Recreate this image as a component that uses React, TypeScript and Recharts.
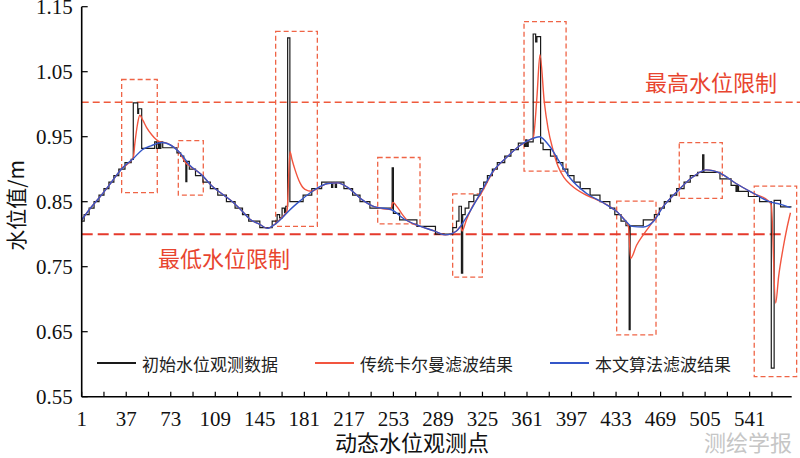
import React from 'react';
import { LineChart, Line, XAxis, YAxis, ReferenceArea, ReferenceLine, Legend } from 'recharts';

const raw: [number, number][] = [
  [1, 0.82], [3, 0.83], [7, 0.84], [11, 0.85], [15, 0.86], [19, 0.87], [23, 0.88], [27, 0.89], [31, 0.9],
  [36, 0.91], [41, 0.915], [42.7, 1.002], [46.3, 0.986], [47, 0.993], [49.5, 0.932], [60, 0.942], [61.5, 0.932],
  [63, 0.942], [64, 0.932], [65, 0.942], [66.5, 0.933], [78, 0.925], [81, 0.92], [83.5, 0.912], [85.2, 0.881],
  [86, 0.912], [88, 0.9], [93, 0.89], [99, 0.88], [105, 0.87], [111, 0.86], [118, 0.85], [125, 0.84], [131, 0.83],
  [136, 0.82], [145, 0.81], [155, 0.82], [159, 0.83], [161, 0.825], [163, 0.84], [165, 0.833], [166, 0.843],
  [167.5, 1.102], [169.3, 0.85], [180, 0.86], [187, 0.87], [195, 0.88], [203, 0.872], [204, 0.88], [206, 0.872],
  [207, 0.88], [213, 0.87], [220, 0.86], [226, 0.85], [234, 0.84], [252, 0.902], [253, 0.832], [258, 0.822],
  [272, 0.812], [287, 0.8], [301, 0.81], [304, 0.82], [306, 0.843], [308, 0.74], [309, 0.83], [311, 0.84],
  [314, 0.85], [318, 0.86], [323, 0.87], [326, 0.88], [329, 0.89], [333, 0.9], [337, 0.91], [343, 0.92],
  [348, 0.93], [354, 0.94], [359, 0.935], [360, 0.945], [361, 0.935], [362, 0.942], [366, 1.108], [368, 1.096],
  [369, 1.104], [372, 0.94], [374, 0.93], [380, 0.92], [385, 0.91], [390, 0.9], [394, 0.89], [399, 0.88],
  [404, 0.87], [412, 0.86], [420, 0.85], [428, 0.84], [432, 0.83], [437, 0.82], [441, 0.813], [443.6, 0.653],
  [444.4, 0.813], [455, 0.822], [464, 0.83], [468, 0.84], [472, 0.85], [477, 0.86], [482, 0.87], [488, 0.88],
  [493, 0.89], [499, 0.895], [503, 0.922], [504, 0.895], [517, 0.885], [526, 0.875], [530, 0.866], [531, 0.875],
  [532, 0.866], [540, 0.858], [549, 0.85], [558.5, 0.594], [560.8, 0.852], [566, 0.842], [575, 0.842],
];

const kalman: [number, number][] = [
  [1, 0.822], [8, 0.84], [16, 0.858], [25, 0.88], [33, 0.9], [42.7, 0.918], [44, 0.94], [46, 0.968], [48, 0.983],
  [50.5, 0.975], [53.5, 0.964], [57.6, 0.953], [61, 0.946], [64.3, 0.942], [69.7, 0.94], [72, 0.938], [80, 0.926],
  [85, 0.91], [89, 0.904], [97, 0.893], [107, 0.873], [116, 0.86], [124, 0.848], [131, 0.835], [137, 0.823],
  [145, 0.815], [151, 0.809], [157, 0.815], [163, 0.826], [167, 0.836], [169.4, 0.927], [171, 0.915],
  [173.5, 0.899], [177.5, 0.879], [181.5, 0.869], [187, 0.866], [192, 0.871], [200, 0.878], [208, 0.879],
  [216, 0.872], [227, 0.854], [238, 0.842], [251, 0.838], [252.5, 0.849], [256, 0.842], [260, 0.831], [265, 0.82],
  [275, 0.812], [286, 0.805], [295, 0.799], [304, 0.805], [307.5, 0.812], [308.5, 0.805], [312, 0.822],
  [317.6, 0.845], [323, 0.86], [334, 0.897], [345, 0.919], [355, 0.936], [363, 0.945], [366, 0.948], [369, 1.01],
  [371.5, 1.076], [375, 1.003], [378, 0.963], [382, 0.93], [386, 0.905], [391, 0.887], [397, 0.875], [407, 0.862],
  [415, 0.855], [423, 0.848], [434, 0.834], [440, 0.822], [443, 0.812], [444.8, 0.763], [449.6, 0.783],
  [455, 0.799], [460, 0.812], [465.5, 0.827], [470, 0.84], [482, 0.865], [495, 0.888], [506, 0.899], [517, 0.894],
  [530, 0.878], [544, 0.863], [557, 0.85], [558.5, 0.845], [562, 0.694], [564.5, 0.736], [568, 0.778],
  [571, 0.808], [574, 0.833],
];

const proposed: [number, number][] = [
  [1, 0.822], [8, 0.84], [16, 0.858], [25, 0.88], [33, 0.9], [43, 0.917], [50, 0.93], [57, 0.936], [66, 0.941],
  [72, 0.938], [80, 0.926], [89, 0.905], [97, 0.893], [107, 0.873], [116, 0.86], [124, 0.848], [131, 0.835],
  [137, 0.823], [145, 0.815], [151, 0.809], [157, 0.815], [163, 0.825], [168, 0.835], [178, 0.852], [189, 0.868],
  [200, 0.878], [208, 0.879], [216, 0.872], [227, 0.854], [238, 0.842], [251, 0.838], [262, 0.823], [275, 0.812],
  [286, 0.805], [295, 0.799], [304, 0.805], [312, 0.826], [323, 0.862], [334, 0.898], [345, 0.919], [355, 0.936],
  [363, 0.945], [371, 0.95], [379, 0.936], [388, 0.909], [396, 0.886], [409, 0.863], [423, 0.848], [434, 0.834],
  [440, 0.822], [446, 0.812], [455, 0.811], [463, 0.819], [471, 0.842], [482, 0.865], [495, 0.888], [506, 0.899],
  [517, 0.894], [530, 0.878], [544, 0.863], [557, 0.85], [566, 0.846], [574, 0.841],
];

// dashed boxes around anomalies: [x1, x2, y1, y2]
const anomalyBoxes: [number, number, number, number][] = [
  [33.3, 62.1, 0.864, 1.038], [79.1, 99.3, 0.86, 0.944], [157.8, 191.5, 0.812, 1.112], [240.3, 274.5, 0.816, 0.918],
  [300.9, 324.9, 0.734, 0.862], [358.6, 392.6, 0.897, 1.127], [433.5, 465.3, 0.645, 0.851], [484.1, 518.9, 0.855, 0.941],
  [544.7, 579, 0.581, 0.874],
];

const maxLevel = 1.003;
const minLevel = 0.8;

const xTicks = [1, 19, 37, 55, 73, 91, 109, 127, 145, 163, 181, 199, 217, 235, 253, 271, 289, 307, 325, 343, 361, 379,
  397, 415, 433, 451, 469, 487, 505, 523, 541, 559];
const yTicks = [0.55, 0.65, 0.75, 0.85, 0.95, 1.05, 1.15];

const seriesNames = ['初始水位观测数据', '传统卡尔曼滤波结果', '本文算法滤波结果'];
const seriesColors = ['#1a1a1a', '#f2553f', '#3456c8'];

const toRows = (pts: [number, number][]) => pts.map(([x, y]) => ({ x, y }));

const CJK = '"Noto Sans CJK SC", sans-serif';
const SERIF = '"Liberation Serif", serif';

const XTick = ({ x, y, payload }: any) => {
  const v = payload.value;
  const labelled = (v - 1) % 36 === 0;
  return (
    <g>
      <line x1={x} y1={y} x2={x} y2={y - 5} stroke="#000" strokeWidth={1.2} />
      {labelled && (
        <text x={x} y={y + 29} textAnchor="middle" fontFamily={SERIF} fontSize={21} fill="#111">{v}</text>
      )}
    </g>
  );
};

const YTick = ({ x, y, payload }: any) => (
  <g>
    <line x1={x} y1={y} x2={x + 6} y2={y} stroke="#000" strokeWidth={1.2} />
    <text x={x - 9} y={y + 7.5} textAnchor="end" fontFamily={SERIF} fontSize={21} fill="#111">
      {payload.value.toFixed(2)}
    </text>
  </g>
);

const legendX = [97, 315, 550];

const renderLegend = () => (
  <div style={{ position: 'relative', width: 800, height: 26 }}>
    {seriesNames.map((name, i) => (
      <div key={name} style={{ position: 'absolute', left: legendX[i], top: 0, height: 26, display: 'flex', alignItems: 'center' }}>
        <span style={{ display: 'inline-block', width: 39, height: 2, background: seriesColors[i] }} />
        <span style={{ marginLeft: 6, fontFamily: CJK, fontSize: 17, color: '#222', lineHeight: 1 }}>{name}</span>
      </div>
    ))}
  </div>
);

const App: React.FC = () => {
  return (
    <div style={{ position: 'absolute', left: 0, top: 0, width: 800, height: 458, background: '#fff' }}>
      <LineChart width={800} height={458} margin={{ top: 6.7, right: 8.3, left: 0, bottom: 0 }}>
        <XAxis
          type="number"
          dataKey="x"
          domain={[1, 575]}
          ticks={xTicks}
          interval={0}
          tick={XTick}
          tickLine={false}
          tickSize={0}
          tickMargin={0}
          height={61.3}
          axisLine={{ stroke: '#000', strokeWidth: 1.6 }}
          allowDataOverflow
        />
        <YAxis
          type="number"
          domain={[0.55, 1.15]}
          ticks={yTicks}
          interval={0}
          tick={YTick}
          tickLine={false}
          tickSize={0}
          tickMargin={0}
          width={81.7}
          axisLine={{ stroke: '#000', strokeWidth: 1.6 }}
          allowDataOverflow
        />
        <ReferenceLine
          segment={[{ x: 1, y: maxLevel }, { x: 581.7, y: maxLevel }]}
          stroke="#ef5a3c"
          strokeWidth={1.3}
          strokeDasharray="7 4"
          ifOverflow="visible"
        />
        <ReferenceLine
          segment={[{ x: 1, y: minLevel }, { x: 568, y: minLevel }]}
          stroke="#e53a2c"
          strokeWidth={2}
          strokeDasharray="11 5"
          ifOverflow="visible"
        />
        {anomalyBoxes.map(([x1, x2, y1, y2], i) => (
          <ReferenceArea
            key={`box-${i}`}
            x1={x1}
            x2={x2}
            y1={y1}
            y2={y2}
            fill="none"
            stroke="#ef6446"
            strokeWidth={1.3}
            strokeDasharray="5 3"
            ifOverflow="visible"
          />
        ))}
        <Line data={toRows(raw)} dataKey="y" type="stepAfter" name={seriesNames[0]} stroke={seriesColors[0]}
          strokeWidth={1.2} dot={false} isAnimationActive={false} />
        <Line data={toRows(kalman)} dataKey="y" type="monotone" name={seriesNames[1]} stroke={seriesColors[1]}
          strokeWidth={1.4} dot={false} isAnimationActive={false} />
        <Line data={toRows(proposed)} dataKey="y" type="monotone" name={seriesNames[2]} stroke={seriesColors[2]}
          strokeWidth={1.4} dot={false} isAnimationActive={false} />
        <Legend
          layout="horizontal"
          verticalAlign="middle"
          align="center"
          content={renderLegend}
          wrapperStyle={{ position: 'absolute', left: 0, top: 350, width: 800, height: 26 }}
        />
      </LineChart>

      <div style={{ position: 'absolute', left: 645, top: 81, transform: 'translateY(-50%)', fontFamily: CJK, fontSize: 22, color: '#e8452f', lineHeight: 1, whiteSpace: 'nowrap' }}>
        最高水位限制
      </div>
      <div style={{ position: 'absolute', left: 158, top: 257, transform: 'translateY(-50%)', fontFamily: CJK, fontSize: 22, color: '#e8452f', lineHeight: 1, whiteSpace: 'nowrap' }}>
        最低水位限制
      </div>
      <div style={{ position: 'absolute', left: 5, top: 160, width: 21, writingMode: 'vertical-rl', textOrientation: 'sideways', transform: 'rotate(180deg)', fontFamily: CJK, fontSize: 21, color: '#111', lineHeight: 1, whiteSpace: 'nowrap' } as React.CSSProperties}>
        水位值/m
      </div>
      <div style={{ position: 'absolute', left: 412, top: 441, transform: 'translate(-50%, -50%)', fontFamily: CJK, fontSize: 22, color: '#111', lineHeight: 1, whiteSpace: 'nowrap' }}>
        动态水位观测点
      </div>
      <div style={{ position: 'absolute', left: 704, top: 441, transform: 'translateY(-50%)', fontFamily: CJK, fontSize: 22, color: '#c6c6c6', lineHeight: 1, whiteSpace: 'nowrap' }}>
        测绘学报
      </div>
    </div>
  );
};

export default App;
